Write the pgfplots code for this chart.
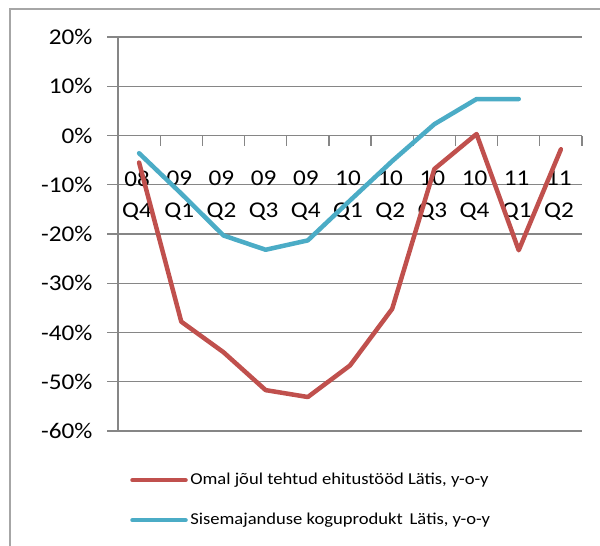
\documentclass[border=0pt]{standalone}
\usepackage{fontspec}
\setmainfont{Carlito}[FakeStretch=1.12]
\usepackage{pgfplots}
\pgfplotsset{compat=1.18}
\definecolor{redline}{HTML}{C0504D}
\definecolor{blueline}{HTML}{4BACC6}
\definecolor{gridgray}{HTML}{868686}
\definecolor{framegray}{HTML}{A6A6A6}

\begin{document}
\begin{tikzpicture}
\useasboundingbox (0,0) rectangle (600pt,546pt);
\fill[white] (0,0) rectangle (600pt,546pt);
\draw[framegray, line width=1.5pt] (10pt,0) -- (10pt,537pt) -- (600pt,537pt);
\begin{axis}[
    at={(118pt,115pt)}, anchor=south west,
    scale only axis,
    width=464pt, height=394pt,
    xmin=0, xmax=11,
    ymin=-60, ymax=20,
    axis x line*=middle,
    axis y line*=left,
    axis line style={gridgray, line width=1.2pt},
    ytick={-60,-50,...,20},
    yticklabels={-60\%,-50\%,-40\%,-30\%,-20\%,-10\%,0\%,10\%,20\%},
    ytick align=outside,
    major tick length=11pt,
    ymajorgrids,
    grid style={gridgray, line width=1.2pt},
    xtick={0.5,1.5,...,10.5},
    xticklabels={{08\\Q4},{09\\Q1},{09\\Q2},{09\\Q3},{09\\Q4},{10\\Q1},{10\\Q2},{10\\Q3},{10\\Q4},{11\\Q1},{11\\Q2}},
    minor xtick={0,1,...,11},
    minor tick length=10pt,
    xtick align=outside,
    major x tick style={draw=none},
    minor x tick style={gridgray, line width=1.2pt},
    tick style={gridgray, line width=1.2pt},
    xticklabel style={align=center, font=\fontsize{22.5}{31.5}\selectfont, yshift=-21pt, xshift=-2pt},
    yticklabel style={font=\fontsize{22.5}{26}\selectfont, xshift=-11pt},
    legend style={draw=none, fill=none, at={(axis description cs:0.026,-0.1)}, anchor=north west,
        inner sep=0pt, row sep=21pt, font=\fontsize{16.6}{18}\selectfont,
        nodes={inner sep=2.5pt, text height=11pt, text depth=3pt}},
    legend cell align=left,
    legend image code/.code={\draw[#1] (0pt,0pt) -- (53pt,0pt);},
    clip=false,
]
\addplot[redline, line width=4.5pt, line join=round, line cap=round] coordinates {
    (0.5,-5.5) (1.5,-37.8) (2.5,-44.0) (3.5,-51.7) (4.5,-53.1) (5.5,-46.7)
    (6.5,-35.2) (7.5,-6.8) (8.5,0.3) (9.5,-23.3) (10.5,-2.8)
};
\addlegendentry{Omal jõul tehtud ehitustööd Lätis, y-o-y}
\addplot[blueline, line width=4.5pt, line join=round, line cap=round] coordinates {
    (0.5,-3.6) (1.5,-11.8) (2.5,-20.3) (3.5,-23.2) (4.5,-21.3) (5.5,-13.2)
    (6.5,-5.2) (7.5,2.3) (8.5,7.4) (9.5,7.4)
};
\addlegendentry{Sisemajanduse koguprodukt\, Lätis, y-o-y}
\end{axis}
\end{tikzpicture}
\end{document}
